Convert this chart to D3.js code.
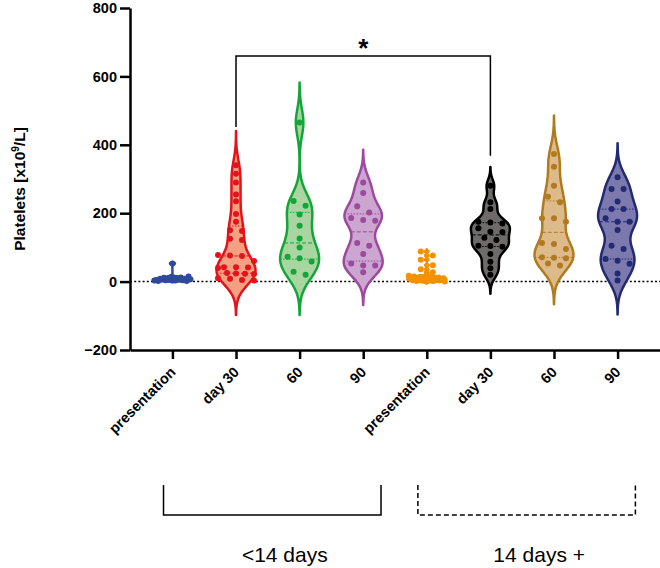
<!DOCTYPE html>
<html>
<head>
<meta charset="utf-8">
<script src="https://cdn.jsdelivr.net/npm/d3@7"></script>
<style>
  body { margin: 0; background: #fff; }
  text { font-family: "Liberation Sans", Arial, sans-serif; }
</style>
</head>
<body>
<svg id="chart" width="660" height="568"></svg>
<script>
// categories along the x axis
var categories = ["presentation", "day 30", "60", "90", "presentation", "day 30", "60", "90"];
var groupLabels = ["<14 days", "14 days +"];
var yTicks = [-200, 0, 200, 400, 600, 800];

// platelet counts, x10^9/L
var presEarly = [3, 5, 2, 8, 6, 11, 4, 9, 7, 14, 5, 3, 10, 6, 12, 4, 8, 2, 15, 7, 53];
var day30Early = [340, 315, 290, 255, 235, 198, 175, 150, 148, 125, 122, 78, 76, 75, 60, 42, 42, 41, 40, 25, 24, 23, 22, 10, 8, 5, 3];
var day60Early = [465, 236, 222, 196, 163, 126, 100, 73, 68, 59, 29, 20];
var day90Early = [290, 259, 220, 202, 186, 180, 178, 113, 105, 81, 53, 47, 47, 27];
var presLate = [88, 76, 64, 48, 36, 27, 17, 12, 9, 4, 15, 6, 2, 11, 8, 14, 3, 7, 10, 1, 13, 5, 9, 16, 6, 2, 11, 4, 8, 12, 3, 7, 5, 10, 0];
var day30Late = [280, 232, 212, 175, 173, 170, 156, 146, 145, 128, 122, 105, 104, 102, 81, 58, 39, 20];
var day60Late = [373, 336, 280, 248, 232, 185, 185, 175, 113, 110, 95, 71, 70, 68, 53, 47];
var day90Late = [305, 271, 271, 234, 212, 212, 185, 175, 175, 151, 105, 95, 66, 61, 52, 24, 3];

var series = [presEarly, day30Early, day60Early, day90Early, presLate, day30Late, day60Late, day90Late];

// significance bracket (day 30 <14 vs day 30 14+), in data units
var sigTop = 660, sigFeet = [452, 368];

var strokes = ["#2f4a9c", "#e3131b", "#13a538", "#9c4a9e", "#f39200", "#000000", "#b27a1f", "#232a72"];
var fills   = ["#8e9dcc", "#f4a083", "#a8d5a0", "#cca6d0", "#f8c27a", "#6f6b6b", "#dcba8a", "#7b79ae"];

var svg = d3.select("#chart");
svg.append("rect").attr("width", 660).attr("height", 568).attr("fill", "#fff");

var x = d3.scalePoint().domain(d3.range(categories.length)).range([130, 660]).padding(0.667);
var y = d3.scaleLinear().domain([-200, 800]).range([350, 8]);

// zero reference line
svg.append("line")
  .attr("x1", 130).attr("x2", 660)
  .attr("y1", y(0)).attr("y2", y(0))
  .attr("stroke", "#000").attr("stroke-width", 1.5)
  .attr("stroke-dasharray", "2,2.2");

function bandwidth(vals) {
  var s = vals.slice().sort(d3.ascending);
  var sd = d3.deviation(s);
  var iqr = (d3.quantile(s, 0.75) - d3.quantile(s, 0.25)) / 1.34;
  var spread = iqr > 0 ? Math.min(sd, iqr) : sd;
  return 0.63 * spread * Math.pow(s.length, -0.2);
}

function kde(vals, bw) {
  return function (v) {
    return d3.sum(vals, function (d) { var u = (v - d) / bw; return Math.exp(-0.5 * u * u); });
  };
}

var rowH = 6.2, colStep = 12, maxSpread = 36;

series.forEach(function (vals, i) {
  var cx = x(i);
  var g = svg.append("g");
  var bw = bandwidth(vals);
  var f = kde(vals, bw);
  var lo = d3.min(vals) - 3 * bw, hi = d3.max(vals) + 3 * bw;
  var grid = d3.range(0, 201).map(function (k) { return lo + (hi - lo) * k / 200; });
  var dens = grid.map(function (v) { return [v, f(v)]; });
  var w = d3.scaleLinear().domain([0, d3.max(dens, function (d) { return d[1]; })]).range([0, 19.5]);

  var area = d3.area()
    .curve(d3.curveBasis)
    .y(function (d) { return y(d[0]); })
    .x0(function (d) { return cx - w(d[1]); })
    .x1(function (d) { return cx + w(d[1]); });

  g.append("path").datum(dens)
    .attr("d", area)
    .attr("fill", fills[i])
    .attr("stroke", strokes[i])
    .attr("stroke-width", 2.5)
    .attr("stroke-linejoin", "round");

  // median (dashed) and quartiles (dotted)
  var s = vals.slice().sort(d3.ascending);
  [[0.25, "1.5,1.5"], [0.5, "4,2"], [0.75, "1.5,1.5"]].forEach(function (q) {
    var v = d3.quantile(s, q[0]);
    var hw = w(f(v));
    g.append("line")
      .attr("x1", cx - hw).attr("x2", cx + hw)
      .attr("y1", y(v)).attr("y2", y(v))
      .attr("stroke", strokes[i]).attr("stroke-width", 1)
      .attr("stroke-dasharray", q[1]);
  });

  // spread dots side by side where they would overlap
  var rows = [];
  vals.slice().sort(function (a, b) { return a - b; }).forEach(function (v) {
    var last = rows[rows.length - 1];
    if (last && y(last.base) - y(v) < rowH) last.items.push(v);
    else rows.push({ base: v, items: [v] });
  });
  var dots = [];
  rows.forEach(function (r) {
    // keep input order inside a row so dense rows don't slant
    var items = vals.filter(function (v) { return r.items.indexOf(v) >= 0; });
    var n = items.length;
    var sp = n > 1 ? Math.min(colStep, maxSpread / (n - 1)) : 0;
    items.forEach(function (v, k) { dots.push({ v: v, dx: (k - (n - 1) / 2) * sp }); });
  });

  g.selectAll("circle").data(dots).enter()
    .append("circle")
    .attr("cx", function (d) { return cx + d.dx; })
    .attr("cy", function (d) { return y(d.v); })
    .attr("r", 3)
    .attr("fill", strokes[i]);
});

// axes
var yAxis = svg.append("g").attr("transform", "translate(130,0)")
  .call(d3.axisLeft(y).tickValues(yTicks).tickSize(10).tickSizeOuter(0).tickPadding(3));
yAxis.select(".domain").attr("stroke-width", 2.5);
yAxis.selectAll(".tick line").attr("stroke-width", 2.5);
yAxis.selectAll("text").attr("font-size", 14.5).attr("font-weight", "bold").attr("fill", "#000");

var xAxis = svg.append("g").attr("transform", "translate(0,350)")
  .call(d3.axisBottom(x).tickSize(9).tickSizeOuter(0).tickFormat(function (i) { return categories[i]; }));
xAxis.select(".domain").attr("stroke-width", 2.5);
xAxis.selectAll(".tick line").attr("stroke-width", 2.5);
xAxis.selectAll("text")
  .attr("x", 0).attr("y", 0).attr("dy", null)
  .attr("text-anchor", "end")
  .attr("transform", "translate(3.5,23) rotate(-45)")
  .attr("font-size", 14.5).attr("font-weight", "bold").attr("fill", "#000");

// y axis title
var yt = svg.append("text")
  .attr("transform", "translate(25,189) rotate(-90)")
  .attr("text-anchor", "middle")
  .attr("font-size", 15.5).attr("font-weight", "bold");
yt.append("tspan").text("Platelets [x10");
yt.append("tspan").attr("font-size", 10).attr("dy", -6).text("9");
yt.append("tspan").attr("dy", 6).text("/L]");

// significance bracket
svg.append("path")
  .attr("d", d3.line()([[x(1), y(sigFeet[0])], [x(1), y(sigTop)], [x(5), y(sigTop)], [x(5), y(sigFeet[1])]]))
  .attr("fill", "none").attr("stroke", "#000").attr("stroke-width", 1.5);
svg.append("text")
  .attr("x", (x(1) + x(5)) / 2).attr("y", y(sigTop) + 1)
  .attr("text-anchor", "middle")
  .attr("font-size", 26).attr("font-weight", "bold")
  .text("*");

// group brackets under the axis
var step = x.step();
[[0, 3, null], [4, 7, "5,3"]].forEach(function (b, k) {
  var x0 = x(b[0]) - 0.14 * step, x1 = x(b[1]) + 0.28 * step;
  svg.append("path")
    .attr("d", d3.line()([[x0, 485], [x0, 515], [x1, 515], [x1, 485]]))
    .attr("fill", "none").attr("stroke", "#000").attr("stroke-width", 1.5)
    .attr("stroke-dasharray", b[2]);
  svg.append("text")
    .attr("x", (x(b[0]) + x(b[1])) / 2 + 17).attr("y", 562)
    .attr("text-anchor", "middle")
    .attr("font-size", 21)
    .text(groupLabels[k]);
});
</script>
</body>
</html>
